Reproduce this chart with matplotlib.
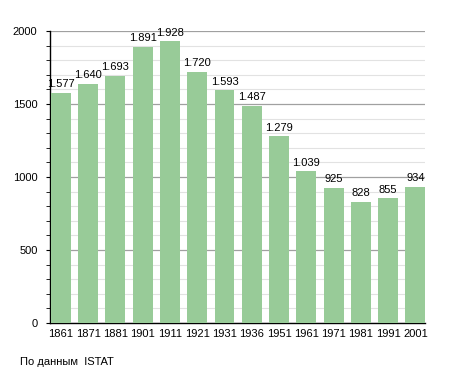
import matplotlib.pyplot as plt
from matplotlib.ticker import MultipleLocator

years = ['1861', '1871', '1881', '1901', '1911', '1921', '1931',
         '1936', '1951', '1961', '1971', '1981', '1991', '2001']
population = [1577, 1640, 1693, 1891, 1928, 1720, 1593,
              1487, 1279, 1039, 925, 828, 855, 934]
source = 'По данным  ISTAT'

plt.rcParams['font.family'] = ['Liberation Sans', 'DejaVu Sans']

fig = plt.figure(figsize=(4.55, 3.73), dpi=100)
ax = fig.add_axes([0.1099, 0.134, 0.8241, 0.783])

x = range(len(years))
ax.bar(x, population, width=0.73, color='#98cb98', zorder=3)

# подписи над столбцами, точка как разделитель тысяч
for i, v in zip(x, population):
    ax.text(i, v + 25, f'{v:,}'.replace(',', '.'), ha='center', va='bottom',
            fontsize=8, zorder=4)

ax.set_xlim(-0.4, 13.35)
ax.set_ylim(0, 2000)
ax.set_xticks(list(x))
ax.set_xticklabels(years, fontsize=8)
ax.yaxis.set_major_locator(MultipleLocator(500))
ax.yaxis.set_minor_locator(MultipleLocator(100))
ax.tick_params(axis='y', labelsize=8, length=3, pad=6)
ax.tick_params(axis='y', which='minor', length=3)
ax.tick_params(axis='x', length=0, pad=4)

ax.grid(axis='y', which='major', color='#a0a0a0', linewidth=0.9, zorder=0)
ax.grid(axis='y', which='minor', color='#e2e2e2', linewidth=0.8, zorder=0)
ax.set_axisbelow(True)

for side in ['top', 'right']:
    ax.spines[side].set_visible(False)
ax.spines['left'].set_linewidth(1)
ax.spines['bottom'].set_linewidth(1)

fig.text(20 / 455, 1 - 362 / 373, source, fontsize=8, va='center')

fig.savefig('out.png', dpi=100)
